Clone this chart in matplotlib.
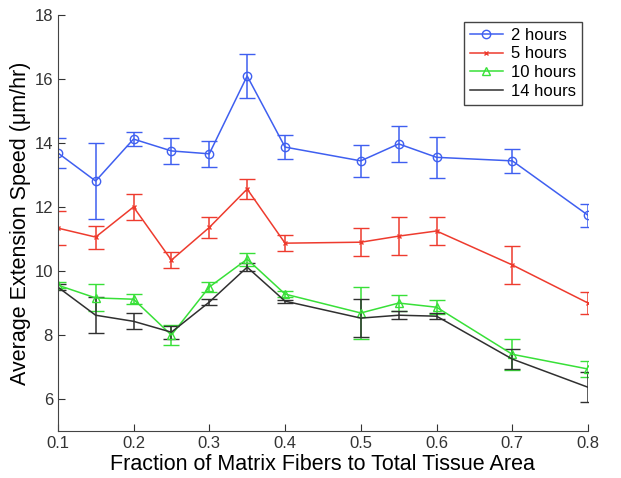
import numpy as np
import matplotlib.pyplot as plt
from matplotlib.lines import Line2D

plt.rcParams['font.family'] = ['Liberation Sans', 'DejaVu Sans']

x = [0.1, 0.15, 0.2, 0.25, 0.3, 0.35, 0.4, 0.5, 0.55, 0.6, 0.7, 0.8]

h2 = [13.69, 12.81, 14.12, 13.75, 13.66, 16.09, 13.87, 13.44, 13.97, 13.55, 13.44, 11.74]
h2_err = [0.47, 1.2, 0.22, 0.41, 0.4, 0.69, 0.37, 0.5, 0.56, 0.63, 0.38, 0.36]

h5 = [11.34, 11.06, 12.0, 10.34, 11.36, 12.56, 10.87, 10.9, 11.09, 11.25, 10.19, 9.0]
h5_err = [0.53, 0.36, 0.41, 0.25, 0.33, 0.3, 0.25, 0.43, 0.6, 0.45, 0.6, 0.33]

h10 = [9.56, 9.16, 9.12, 8.0, 9.5, 10.37, 9.28, 8.69, 9.0, 8.87, 7.4, 6.94]
h10_err = [0.1, 0.42, 0.16, 0.32, 0.16, 0.2, 0.1, 0.8, 0.24, 0.22, 0.48, 0.24]

h14 = [9.5, 8.62, 8.43, 8.09, 9.03, 10.12, 9.06, 8.53, 8.62, 8.59, 7.25, 6.37]
h14_err = [0.1, 0.56, 0.25, 0.2, 0.1, 0.12, 0.05, 0.6, 0.12, 0.1, 0.3, 0.47]

labels = ['2 hours', '5 hours', '10 hours', '14 hours']

fig = plt.figure(figsize=(6.21, 4.78), dpi=100)
ax = fig.add_axes([0.093, 0.098, 0.854, 0.871])

blue = '#3f5ff0'
red = '#ee3b2e'
green = '#38e038'
black = '#303030'

styles = [
    dict(color=blue, marker='o', mfc='none', ms=6),
    dict(color=red, marker='x', ms=3.5),
    dict(color=green, marker='^', mfc='none', ms=5.5),
    dict(color=black, marker=None),
]
series = [(h2, h2_err), (h5, h5_err), (h10, h10_err), (h14, h14_err)]

handles = []
for (y, e), st, lab in zip(series, styles, labels):
    ax.errorbar(x, y, yerr=e, lw=1.1, capsize=6, elinewidth=1.1, **st)
    handles.append(Line2D([], [], lw=1.1, label=lab, **st))

ax.set_xlim(0.1, 0.8)
ax.set_ylim(5, 18)
ax.set_xticks(np.arange(0.1, 0.81, 0.1))
ax.set_xticklabels(['0.1', '0.2', '0.3', '0.4', '0.5', '0.6', '0.7', '0.8'])
ax.set_yticks([6, 8, 10, 12, 14, 16, 18])
ax.tick_params(direction='in', labelsize=12, length=5, colors='#333333')
ax.spines['top'].set_visible(False)
ax.spines['right'].set_visible(False)
ax.spines['left'].set_color('#444444')
ax.spines['bottom'].set_color('#444444')

ax.set_xlabel('Fraction of Matrix Fibers to Total Tissue Area', fontsize=15.5, labelpad=2)
ax.set_ylabel('Average Extension Speed (\u03bcm/hr)', fontsize=15.5, labelpad=2)

leg = ax.legend(handles=handles, loc='upper right', bbox_to_anchor=(0.989, 0.983),
                borderaxespad=0, fontsize=12, fancybox=False, edgecolor='#444444',
                framealpha=1, borderpad=0.35, labelspacing=0.22, handlelength=2.0,
                handletextpad=0.5)
leg.get_frame().set_linewidth(1.0)

fig.savefig('out.png', dpi=100)
